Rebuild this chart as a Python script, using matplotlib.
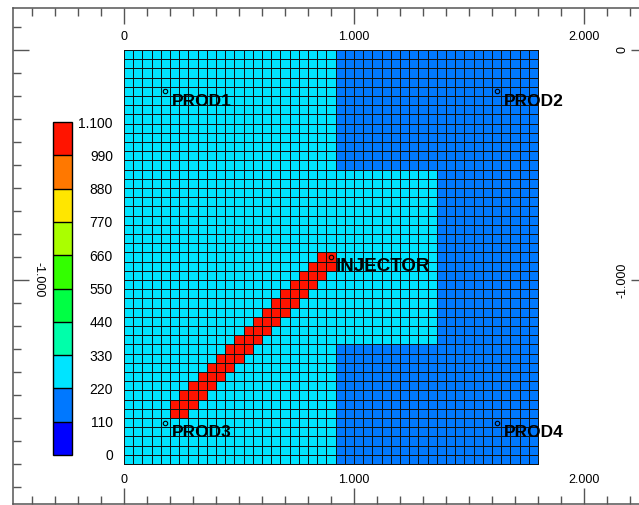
import numpy as np
import matplotlib.pyplot as plt
from matplotlib.colors import ListedColormap, BoundaryNorm
from matplotlib.ticker import MultipleLocator

plt.rcParams['font.family'] = ['Liberation Sans', 'DejaVu Sans']

# grid: 45 x 45 cells, 40 m each
cell_size = 40
n_cols = 45
n_rows = 45

# colour classes of the legend
class_edges = [0, 110, 220, 330, 440, 550, 660, 770, 880, 990, 1100]
class_labels = ['0', '110', '220', '330', '440', '550', '660', '770', '880', '990', '1.100']
class_colors = ['#0000ff', '#0078ff', '#00e4ff', '#00ffaa', '#00ff44',
                '#33ff00', '#aaff00', '#ffe600', '#ff7800', '#ff1400']

# cell values
background_value = 275
# zones: (first col, last col, first row, last row, value)
zones = [
    (23, 44, 0, 44, 165),
    (23, 33, 13, 31, 275),
]
# high-value band between injector and PROD3
band_rows = list(range(22, 40))
band_first_col = [21, 20, 19, 18, 17, 16, 15, 14, 13, 12, 11, 10, 9, 8, 7, 6, 5, 5]
band_last_col = [22, 22, 21, 20, 19, 18, 17, 16, 15, 14, 13, 12, 11, 10, 9, 8, 7, 6]
band_value = 1050

# wells
well_names = ['PROD1', 'PROD2', 'PROD3', 'PROD4', 'INJECTOR']
well_x = [180, 1620, 180, 1620, 900]
well_y = [-180, -180, -1620, -1620, -900]

# axis labels
x_label_pos = [0, 1000, 2000]
x_label_text = ['0', '1.000', '2.000']


def main():
    vals = np.full((n_rows, n_cols), float(background_value))
    for c0, c1, r0, r1, v in zones:
        vals[r0:r1 + 1, c0:c1 + 1] = v
    for r, c0, c1 in zip(band_rows, band_first_col, band_last_col):
        vals[r, c0:c1 + 1] = band_value

    x_edges = np.arange(n_cols + 1) * cell_size
    y_edges = -np.arange(n_rows + 1) * cell_size

    cmap = ListedColormap(class_colors)
    norm = BoundaryNorm(class_edges, cmap.N)

    fig = plt.figure(figsize=(6.39, 5.05), dpi=100)
    ax = fig.add_axes([13 / 639, 1 / 505, 634 / 639, 496 / 505])
    mesh = ax.pcolormesh(x_edges, y_edges, vals, cmap=cmap, norm=norm,
                         edgecolors='#111111', linewidth=0.6)

    ax.set_xlim(-482.6, 2273.9)
    ax.set_ylim(-1973.9, 182.6)

    ax.xaxis.set_major_locator(MultipleLocator(1000))
    ax.xaxis.set_minor_locator(MultipleLocator(100))
    ax.yaxis.set_major_locator(MultipleLocator(1000))
    ax.yaxis.set_minor_locator(MultipleLocator(100))
    ax.tick_params(which='both', direction='in', top=True, right=True,
                   labelbottom=False, labelleft=False, color='#555555', width=1.0)
    ax.tick_params(which='major', length=11.5)
    ax.tick_params(which='minor', length=5.8)
    for s in ax.spines.values():
        s.set_color('#555555')
        s.set_linewidth(1.1)

    # axis annotations inside the frame
    xt = ax.get_xaxis_transform()
    for xv, t in zip(x_label_pos, x_label_text):
        ax.text(xv, 0.9415, t, transform=xt, ha='center', va='center', fontsize=9)
        ax.text(xv, 0.0484, t, transform=xt, ha='center', va='center', fontsize=9)
    yt = ax.get_yaxis_transform()
    ax.text(0.041, -1000, '-1.000', transform=yt, rotation=-90,
            ha='center', va='center', fontsize=9)
    ax.text(0.962, -1000, '-1.000', transform=yt, rotation=90,
            ha='center', va='center', fontsize=9)
    ax.text(0.962, 0, '0', transform=yt, rotation=90,
            ha='center', va='center', fontsize=9)

    # wells
    ax.plot(well_x, well_y, 'o', ms=3.2, mfc='none', mec='black', mew=0.8, zorder=4)
    for name, wx, wy in zip(well_names, well_x, well_y):
        dx = 22 if name == 'INJECTOR' else 30
        size = 13.5 if name == 'INJECTOR' else 12.5
        ax.text(wx + dx, wy - 43, name, ha='left', va='center', zorder=5,
                fontsize=size, fontweight='bold', color='black')

    # colour legend
    cax = fig.add_axes([53 / 639, 50 / 505, 19 / 639, 333 / 505])
    cb = fig.colorbar(mesh, cax=cax, boundaries=class_edges, ticks=class_edges,
                      drawedges=True)
    cb.ax.set_yticklabels(class_labels)
    cb.outline.set_edgecolor('black')
    cb.outline.set_linewidth(1.0)
    cb.dividers.set_color('black')
    cb.dividers.set_linewidth(1.0)
    cb.ax.tick_params(length=0, pad=29.5, labelsize=10)
    for lab in cb.ax.get_yticklabels():
        lab.set_horizontalalignment('right')

    fig.savefig('out.png', dpi=100)
    plt.close(fig)


if __name__ == '__main__':
    main()
